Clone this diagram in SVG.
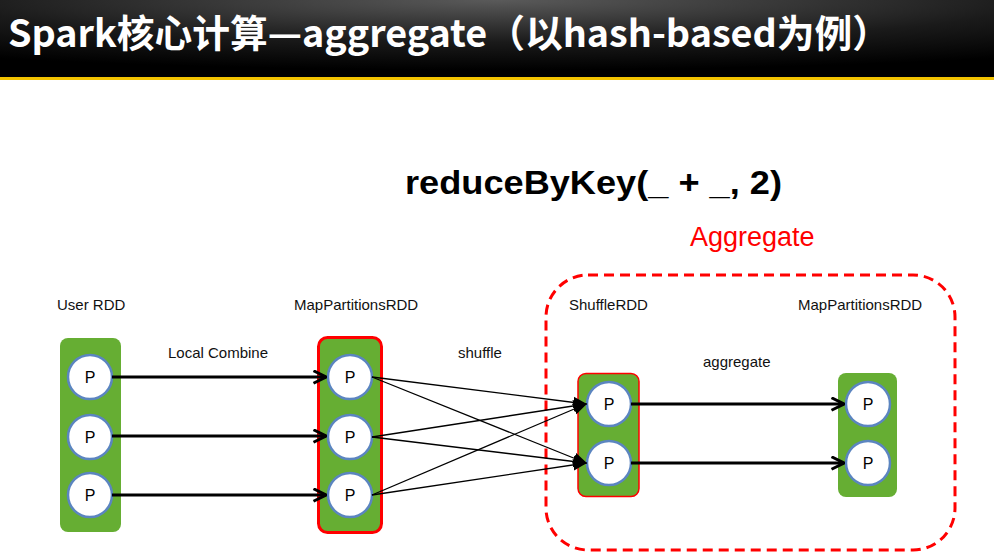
<svg xmlns="http://www.w3.org/2000/svg" width="994" height="560" viewBox="0 0 994 560">
<defs>
<radialGradient id="bar" cx="0.5" cy="0" r="0.9" fx="0.5" fy="0">
<stop offset="0" stop-color="#5a5a5a"/>
<stop offset="0.6" stop-color="#1a1a1a"/>
<stop offset="1" stop-color="#000"/>
</radialGradient>
<marker id="thick" viewBox="0 0 12 12" refX="11" refY="6" markerWidth="5" markerHeight="5" orient="auto" markerUnits="strokeWidth">
<path d="M1,1 L11,6 L1,11" fill="none" stroke="#000" stroke-width="2.4"/>
</marker>
<marker id="thin" viewBox="0 0 10 10" refX="9" refY="5" markerWidth="11" markerHeight="11" orient="auto" markerUnits="strokeWidth">
<path d="M0,1 L10,5 L0,9 Z" fill="#000"/>
</marker>
</defs>
<style>
.lbl{font-family:"Liberation Sans",Arial,sans-serif;font-size:15px;fill:#111;}
.grp{fill:#66AE33;}
.p circle{fill:#fff;stroke:#5B85C0;stroke-width:2.5;}
.p text{font-family:"Liberation Sans",Arial,sans-serif;font-size:16px;fill:#000;text-anchor:middle;}
.thick{stroke:#000;stroke-width:3;fill:none;marker-end:url(#thick);}
.thin{stroke:#000;stroke-width:1.3;fill:none;marker-end:url(#thin);}
</style>
<rect width="994" height="560" fill="#fff"/>
<rect x="0" y="0" width="994" height="78" fill="url(#bar)"/>
<rect x="0" y="77" width="994" height="3" fill="#F3C300"/>
<text x="8" y="47" font-family="'Noto Sans CJK SC','Noto Sans',sans-serif" font-weight="bold" font-size="38" fill="#fff" textLength="882" lengthAdjust="spacingAndGlyphs">Spark核心计算—aggregate（以hash-based为例）</text>

<text x="405" y="194" font-family="'Liberation Sans',Arial,sans-serif" font-weight="bold" font-size="33" fill="#000" textLength="377" lengthAdjust="spacingAndGlyphs">reduceByKey(_ + _, 2)</text>
<text x="690" y="246" font-family="'Liberation Sans',Arial,sans-serif" font-size="27" fill="#FF0000">Aggregate</text>

<rect id="aggregate-region" x="546" y="275" width="409" height="275" rx="42" fill="none" stroke="#FF0000" stroke-width="3" stroke-dasharray="10,6"/>

<text class="lbl" x="57" y="310">User RDD</text>
<text class="lbl" x="294" y="310">MapPartitionsRDD</text>
<text class="lbl" x="569" y="310">ShuffleRDD</text>
<text class="lbl" x="798" y="310">MapPartitionsRDD</text>
<text class="lbl" x="168" y="358">Local Combine</text>
<text class="lbl" x="458" y="358">shuffle</text>
<text class="lbl" x="703" y="367">aggregate</text>

<g id="user-rdd">
<rect class="grp" x="60" y="338" width="61" height="194" rx="8"/>
<g class="p"><circle cx="90" cy="377" r="22"/><text x="90" y="383">P</text></g>
<g class="p"><circle cx="90" cy="437" r="22"/><text x="90" y="443">P</text></g>
<g class="p"><circle cx="90" cy="495" r="22"/><text x="90" y="501">P</text></g>
</g>

<g id="map-rdd-1">
<rect class="grp" x="318.5" y="337.5" width="63" height="195" rx="9" stroke="#FF0000" stroke-width="3"/>
<g class="p"><circle cx="350" cy="377" r="22"/><text x="350" y="383">P</text></g>
<g class="p"><circle cx="350" cy="437" r="22"/><text x="350" y="443">P</text></g>
<g class="p"><circle cx="350" cy="495" r="22"/><text x="350" y="501">P</text></g>
</g>

<g id="shuffle-rdd">
<rect class="grp" x="578" y="373.5" width="61" height="123" rx="8" stroke="#FF0000" stroke-width="1.5"/>
<g class="p"><circle cx="609" cy="404" r="22"/><text x="609" y="410">P</text></g>
<g class="p"><circle cx="609" cy="463" r="22"/><text x="609" y="469">P</text></g>
</g>

<g id="map-rdd-2">
<rect class="grp" x="838" y="373" width="59" height="124" rx="8"/>
<g class="p"><circle cx="868" cy="404" r="22"/><text x="868" y="410">P</text></g>
<g class="p"><circle cx="868" cy="463" r="22"/><text x="868" y="469">P</text></g>
</g>

<g id="connectors">
<line class="thick" x1="112" y1="377" x2="326" y2="377"/>
<line class="thick" x1="112" y1="436" x2="326" y2="436"/>
<line class="thick" x1="112" y1="495" x2="326" y2="495"/>
<line class="thin" x1="372" y1="377" x2="586" y2="404"/>
<line class="thin" x1="372" y1="377" x2="586" y2="463"/>
<line class="thin" x1="372" y1="437" x2="586" y2="404"/>
<line class="thin" x1="372" y1="437" x2="586" y2="463"/>
<line class="thin" x1="372" y1="495" x2="586" y2="404"/>
<line class="thin" x1="372" y1="495" x2="586" y2="463"/>
<line class="thick" x1="631" y1="404" x2="844" y2="404"/>
<line class="thick" x1="631" y1="463" x2="844" y2="463"/>
</g>
</svg>
